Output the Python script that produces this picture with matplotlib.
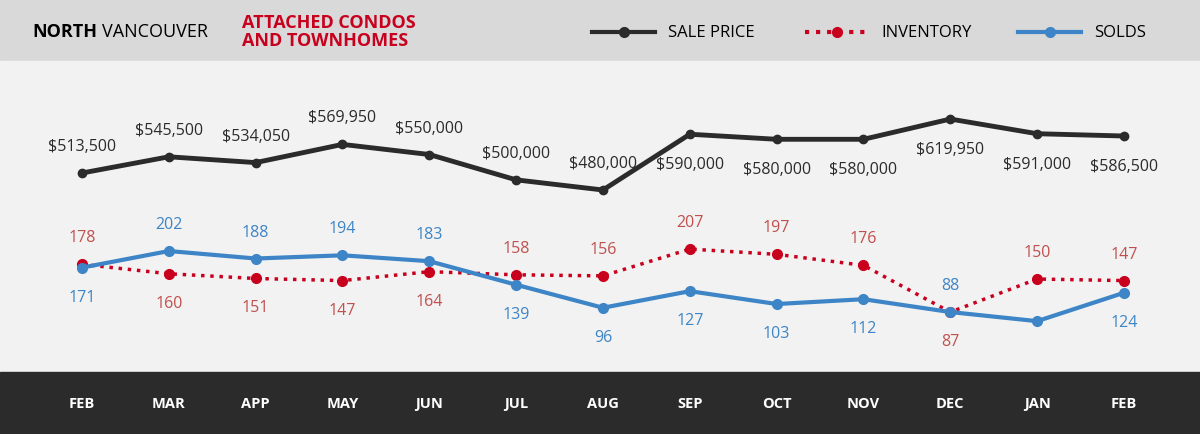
import matplotlib.pyplot as plt
from matplotlib.patches import Rectangle
from matplotlib.lines import Line2D

plt.rcParams['font.family'] = ['Open Sans', 'DejaVu Sans']

months = ["FEB", "MAR", "APP", "MAY", "JUN", "JUL", "AUG", "SEP", "OCT", "NOV", "DEC", "JAN", "FEB"]
sale_price = [513500, 545500, 534050, 569950, 550000, 500000, 480000, 590000, 580000, 580000, 619950, 591000, 586500]
inventory = [178, 160, 151, 147, 164, 158, 156, 207, 197, 176, 87, 150, 147]
solds = [171, 202, 188, 194, 183, 139, 96, 127, 103, 112, 88, 71, 124]
solds_shown = [True] * 11 + [False, True]

BLACK = "#2b2b2b"
RED = "#c8001e"
BLUE = "#3d85c6"
W, H = 1200, 435

fig = plt.figure(figsize=(12, 4.35), dpi=100)
bg = fig.add_axes([0, 0, 1, 1])
bg.set_xlim(0, W)
bg.set_ylim(H, 0)
bg.axis("off")
bg.add_patch(Rectangle((0, 0), W, 62, color="#d9d9d9"))
bg.add_patch(Rectangle((0, 62), W, 311, color="#f2f2f2"))
bg.add_patch(Rectangle((0, 373), W, 62, color=BLACK))

# header
bg.text(32, 32, "NORTH", fontsize=13, fontweight="bold", color="black", va="center")
bg.text(102, 32, "VANCOUVER", fontsize=13, color="black", va="center")
bg.text(242, 32, "ATTACHED CONDOS\nAND TOWNHOMES", fontsize=13, fontweight="bold",
        color=RED, va="center", linespacing=1.05)
legend = [("SALE PRICE", BLACK, "-", 592), ("INVENTORY", RED, ":", 805), ("SOLDS", BLUE, "-", 1018)]
for name, col, ls, x0 in legend:
    bg.add_line(Line2D([x0, x0 + 63], [33, 33], color=col, lw=3, ls=ls))
    bg.plot([x0 + 32], [33], "o", color=col, ms=7)
    bg.text(x0 + 76, 33, name, fontsize=12, color="black", va="center")

pos = 62 / H
hgt = 311 / H
step = 86.83
xl = (-82 / step, (W - 82) / step)
x = list(range(len(months)))

for i, m in enumerate(months):
    bg.text(82 + step * i, 404, m, fontsize=10.5, fontweight="bold", color="white",
            ha="center", va="center")

def make_ax(lo, hi):
    ax = fig.add_axes([0, 1 - pos - hgt, 1, hgt])
    ax.set_xlim(*xl)
    ax.set_ylim(lo, hi)
    ax.axis("off")
    ax.patch.set_alpha(0)
    return ax

ax_p = make_ax(121026, 734438)
ax_p.plot(x, sale_price, "-o", color=BLACK, lw=3.5, ms=6)
for i, v in enumerate(sale_price):
    dy = 27 if i < 7 else -30
    ax_p.annotate(f"${v:,}", (i, v), xytext=(0, dy), textcoords="offset pixels",
                  ha="center", va="center", fontsize=11.5, color=BLACK)

ax_i = make_ax(-27, 565)
ax_i.plot(x, inventory, ":o", color=RED, lw=2.5, ms=7)
ax_s = make_ax(-24, 557)
ax_s.plot(x, solds, "-o", color=BLUE, lw=3, ms=7)

for i in x:
    up = inventory[i] >= solds[i]
    ax_i.annotate(str(inventory[i]), (i, inventory[i]), xytext=(0, 27 if up else -29),
                  textcoords="offset pixels", ha="center", va="center",
                  fontsize=11.5, color="#c0504d")
    if solds_shown[i]:
        ax_s.annotate(str(solds[i]), (i, solds[i]), xytext=(0, -29 if up else 27),
                      textcoords="offset pixels", ha="center", va="center",
                      fontsize=11.5, color=BLUE)

fig.savefig("out.png", dpi=100)
